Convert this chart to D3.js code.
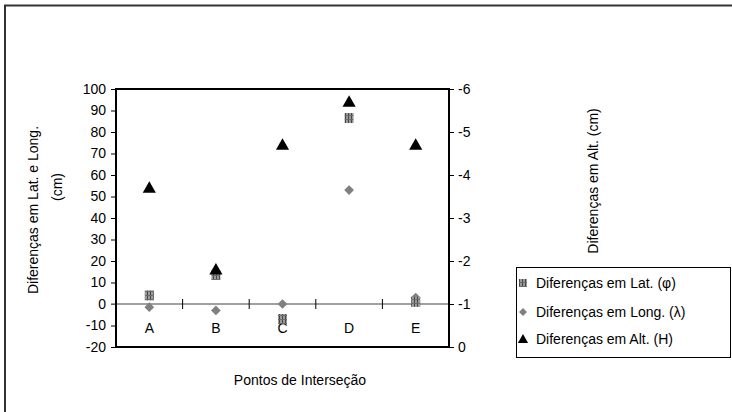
<!DOCTYPE html>
<html>
<head>
<meta charset="utf-8">
<script src="https://cdn.jsdelivr.net/npm/d3@7"></script>
<style>
  body { margin: 0; background: #fff; }
  svg text { font-family: "Liberation Sans", Arial, sans-serif; fill: #000; }
</style>
</head>
<body>
<svg id="chart" width="732" height="412"></svg>
<script>
// data
const pontos = ["A", "B", "C", "D", "E"];
const difLat = [4, 13.5, -7, 86.5, 1];
const difLong = [-1.5, -3, 0, 53, 3];
const difAlt = [-3.7, -1.8, -4.7, -5.7, -4.7];
const leftTicks = [-20, -10, 0, 10, 20, 30, 40, 50, 60, 70, 80, 90, 100];
const rightTicks = [0, -1, -2, -3, -4, -5, -6];
const seriesNames = ["Diferenças em Lat. (φ)", "Diferenças em Long. (λ)", "Diferenças em Alt. (H)"];

const fs = 14;
const svg = d3.select("#chart");
const plot = { left: 116, right: 449, top: 89, bottom: 347 };

// outer chart frame (right & bottom run off the picture)
svg.append("rect")
  .attr("x", 5).attr("y", 5.5)
  .attr("width", 760).attr("height", 440)
  .attr("fill", "none").attr("stroke", "#333").attr("stroke-width", 2);

const x = d3.scaleBand().domain(pontos).range([plot.left, plot.right]).padding(0);
const y = d3.scaleLinear().domain([-20, 100]).range([plot.bottom, plot.top]);
const y2 = d3.scaleLinear().domain([0, -6]).range([plot.bottom, plot.top]);

// pattern for the lat. squares
const defs = svg.append("defs");
const pat = defs.append("pattern")
  .attr("id", "chk").attr("patternUnits", "userSpaceOnUse")
  .attr("width", 3).attr("height", 4);
pat.append("rect").attr("width", 3).attr("height", 4).attr("fill", "#9a9a9a");
pat.append("rect").attr("width", 1).attr("height", 4).attr("fill", "#444");
pat.append("rect").attr("y", 3).attr("width", 3).attr("height", 1).attr("fill", "#6a6a6a");

// left axis
const ax = svg.append("g")
  .attr("transform", "translate(" + plot.left + ",0)")
  .call(d3.axisLeft(y).tickValues(leftTicks).tickSize(5).tickPadding(5).tickFormat(d => String(d)));
ax.select(".domain").remove();
ax.selectAll("line").attr("stroke", "#000");
ax.selectAll("text").attr("font-size", fs).attr("font-family", "Liberation Sans, Arial, sans-serif");

// right axis
const ax2 = svg.append("g")
  .attr("transform", "translate(" + plot.right + ",0)")
  .call(d3.axisRight(y2).tickValues(rightTicks).tickSize(5).tickPadding(4).tickFormat(d => String(d)));
ax2.select(".domain").remove();
ax2.selectAll("line").attr("stroke", "#000");
ax2.selectAll("text").attr("font-size", fs).attr("font-family", "Liberation Sans, Arial, sans-serif");

// zero line with category ticks
const y0 = y(0);
svg.append("line")
  .attr("x1", plot.left - 5).attr("x2", plot.right)
  .attr("y1", y0).attr("y2", y0)
  .attr("stroke", "#808080").attr("stroke-width", 1.5);
svg.selectAll(".xtick")
  .data(pontos.slice(1))
  .enter().append("line")
  .attr("class", "xtick")
  .attr("x1", d => x(d)).attr("x2", d => x(d))
  .attr("y1", y0 - 5).attr("y2", y0 + 5)
  .attr("stroke", "#000");
svg.selectAll(".xlab")
  .data(pontos)
  .enter().append("text")
  .attr("class", "xlab")
  .attr("x", d => x(d) + x.bandwidth() / 2)
  .attr("y", y0 + 29)
  .attr("text-anchor", "middle")
  .attr("font-size", fs)
  .text(d => d);

// plot area border
svg.append("rect")
  .attr("x", plot.left).attr("y", plot.top)
  .attr("width", plot.right - plot.left).attr("height", plot.bottom - plot.top)
  .attr("fill", "none").attr("stroke", "#000").attr("stroke-width", 2);

const cx = d => x(d) + x.bandwidth() / 2;

// long. diamonds
const diamond = d3.symbol().type(d3.symbolDiamond2).size(60);
svg.selectAll(".long")
  .data(pontos)
  .enter().append("path")
  .attr("class", "long")
  .attr("d", diamond)
  .attr("transform", (d, i) => "translate(" + cx(d) + "," + y(difLong[i]) + ")")
  .attr("fill", "#808080");

// lat. squares
svg.selectAll(".lat")
  .data(pontos)
  .enter().append("rect")
  .attr("class", "lat")
  .attr("x", d => cx(d) - 4.5)
  .attr("y", (d, i) => y(difLat[i]) - 5)
  .attr("width", 9).attr("height", 10)
  .attr("fill", "url(#chk)");

// alt. triangles (right axis)
const tri = d3.symbol().type(d3.symbolTriangle).size(75);
svg.selectAll(".alt")
  .data(pontos)
  .enter().append("path")
  .attr("class", "alt")
  .attr("d", tri)
  .attr("transform", (d, i) => "translate(" + cx(d) + "," + (y2(difAlt[i]) + 1) + ")")
  .attr("fill", "#000");

// axis titles
svg.append("text")
  .attr("transform", "translate(38,210) rotate(-90)")
  .attr("text-anchor", "middle").attr("font-size", fs)
  .text("Diferenças em Lat. e Long.");
svg.append("text")
  .attr("transform", "translate(62,187) rotate(-90)")
  .attr("text-anchor", "middle").attr("font-size", fs)
  .text("(cm)");
svg.append("text")
  .attr("transform", "translate(598,181) rotate(-90)")
  .attr("text-anchor", "middle").attr("font-size", fs)
  .text("Diferenças em Alt. (cm)");
svg.append("text")
  .attr("x", 300).attr("y", 385)
  .attr("text-anchor", "middle").attr("font-size", fs)
  .text("Pontos de Interseção");

// legend
const lg = svg.append("g").attr("transform", "translate(516,267)");
lg.append("rect")
  .attr("x", 0.5).attr("y", 0.5).attr("width", 214).attr("height", 90)
  .attr("fill", "#fff").attr("stroke", "#000");
const rowY = [16, 45, 72];
lg.append("rect").attr("x", 3).attr("y", rowY[0] - 4).attr("width", 8).attr("height", 8).attr("fill", "url(#chk)");
lg.append("path").attr("d", d3.symbol().type(d3.symbolDiamond2).size(40))
  .attr("transform", "translate(7," + rowY[1] + ")").attr("fill", "#808080");
lg.append("path").attr("d", d3.symbol().type(d3.symbolTriangle).size(45))
  .attr("transform", "translate(7," + (rowY[2] + 1) + ")").attr("fill", "#000");
lg.selectAll(".lt")
  .data(seriesNames)
  .enter().append("text")
  .attr("class", "lt")
  .attr("x", 20)
  .attr("y", (d, i) => rowY[i] + 5)
  .attr("font-size", fs)
  .text(d => d);
</script>
</body>
</html>
